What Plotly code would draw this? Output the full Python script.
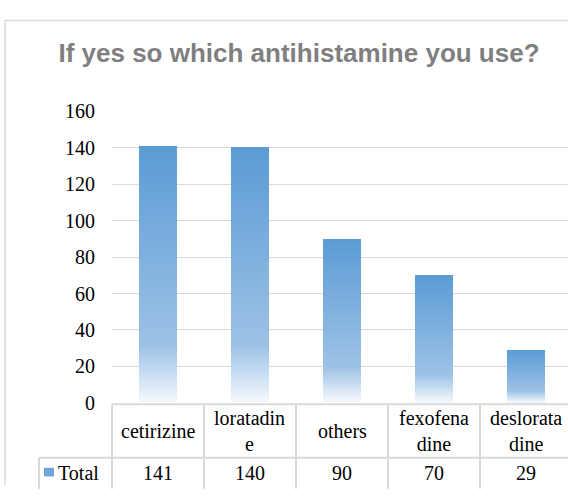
import plotly.graph_objects as go

# ---- data ----
categories = ["cetirizine", "loratadine", "others", "fexofenadine", "desloratadine"]
category_labels = ["cetirizine", "loratadin<br>e", "others", "fexofena<br>dine", "deslorata<br>dine"]
values = [141, 140, 90, 70, 29]
series_name = "Total"
title_text = "If yes so which antihistamine you use?"
y_ticks = [0, 20, 40, 60, 80, 100, 120, 140, 160]

W, H = 568, 496

def px_x(p):
    return p / W

def px_y(p):
    return 1 - p / H

# gradient stops (t = fraction of bar height from the bottom)
TOP = (91, 155, 213)
MID = (157, 194, 230)
BOT = (245, 249, 253)
T_MID = 0.22

def grad_color(t):
    if t >= T_MID:
        s = (1 - t) / (1 - T_MID)
        a, b = TOP, MID
    else:
        s = (T_MID - t) / T_MID
        a, b = MID, BOT
    c = [round(a[i] + (b[i] - a[i]) * s) for i in range(3)]
    return "rgb(%d,%d,%d)" % tuple(c)

N = 80
fig = go.Figure()
for k in range(N, 0, -1):
    fig.add_trace(go.Bar(
        x=categories,
        y=[v * k / N for v in values],
        marker=dict(color=grad_color((k - 0.5) / N), line=dict(width=0)),
        width=0.41,
        showlegend=False,
        hoverinfo="skip",
    ))

col_w_px = 92
plot_left = 112
x_range = [-0.5, 4.5 - (plot_left + 5 * col_w_px - W) / col_w_px]
x_dom = [px_x(plot_left), 1.0]
y_dom = [px_y(410), px_y(105)]

def cat_to_paper(xv):
    return x_dom[0] + (xv - x_range[0]) / (x_range[1] - x_range[0]) * (x_dom[1] - x_dom[0])

grid_col = "#D9D9D9"
text_col = "#000000"
serif = "Liberation Serif, Times New Roman, serif"

fig.update_layout(
    width=W, height=H,
    margin=dict(l=0, r=0, t=0, b=0),
    paper_bgcolor="white", plot_bgcolor="white",
    barmode="overlay",
    bargap=0,
    title=dict(
        text=title_text,
        x=px_x(299), xanchor="center", xref="paper",
        y=px_y(44), yanchor="middle", yref="paper",
        font=dict(family="Liberation Sans, Arial, sans-serif",
                  size=26, color="#7F7F7F", weight="bold"),
    ),
    xaxis=dict(domain=x_dom, range=x_range, showticklabels=False, showgrid=False,
               zeroline=False, showline=False, ticks="", fixedrange=True),
    yaxis=dict(domain=y_dom, range=[0, 160], tickvals=y_ticks, showgrid=True,
               gridcolor=grid_col, gridwidth=1.2, zeroline=False, showline=False,
               ticks="", ticklabelstandoff=16,
               tickfont=dict(family=serif, size=20, color=text_col)),
)

shapes = []
line = dict(color=grid_col, width=2)
# chart outer border (left and top)
shapes.append(dict(type="line", xref="paper", yref="paper", x0=px_x(5), x1=px_x(5),
                   y0=px_y(10), y1=0, line=dict(color="#D9D9D9", width=1.5)))
shapes.append(dict(type="line", xref="paper", yref="paper", x0=px_x(5), x1=1,
                   y0=px_y(10), y1=px_y(10), line=dict(color="#D9D9D9", width=1.5)))
# data table
row_top, row_mid, row_bot = 411.5, 467.5, 500
shapes.append(dict(type="line", xref="paper", yref="paper", x0=cat_to_paper(-0.5), x1=1,
                   y0=px_y(row_top), y1=px_y(row_top), line=line))
shapes.append(dict(type="line", xref="paper", yref="paper", x0=px_x(39), x1=1,
                   y0=px_y(row_mid), y1=px_y(row_mid), line=line))
shapes.append(dict(type="line", xref="paper", yref="paper", x0=px_x(39), x1=px_x(39),
                   y0=px_y(row_mid), y1=px_y(row_bot), line=line))
for i in range(len(categories)):
    xp = cat_to_paper(i - 0.5)
    shapes.append(dict(type="line", xref="paper", yref="paper", x0=xp, x1=xp,
                       y0=px_y(row_top), y1=px_y(row_bot), line=line))
# legend key
shapes.append(dict(type="rect", xref="paper", yref="paper", x0=px_x(44), x1=px_x(54),
                   y0=px_y(487), y1=px_y(478), line=dict(width=0),
                   fillcolor="rgb(110,165,219)"))
fig.update_layout(shapes=shapes)

annotations = []
for i, (lab, v) in enumerate(zip(category_labels, values)):
    xp = cat_to_paper(i)
    annotations.append(dict(xref="paper", yref="paper", x=xp, y=px_y((row_top + row_mid) / 2),
                            text=lab, showarrow=False, xanchor="center", yanchor="middle",
                            font=dict(family=serif, size=20, color=text_col)))
    annotations.append(dict(xref="paper", yref="paper", x=xp, y=px_y(483),
                            text=str(v), showarrow=False, xanchor="center", yanchor="middle",
                            font=dict(family=serif, size=20, color=text_col)))
annotations.append(dict(xref="paper", yref="paper", x=px_x(56), y=px_y(483),
                        text=series_name, showarrow=False, xanchor="left", yanchor="middle",
                        font=dict(family=serif, size=20, color=text_col)))
fig.update_layout(annotations=annotations)

# remove the page's default body margin so the figure fills the window exactly
fig.write_html(
    "out.html",
    config={"displayModeBar": False},
    post_script="document.body.style.margin='0';document.documentElement.style.overflow='hidden';",
)
